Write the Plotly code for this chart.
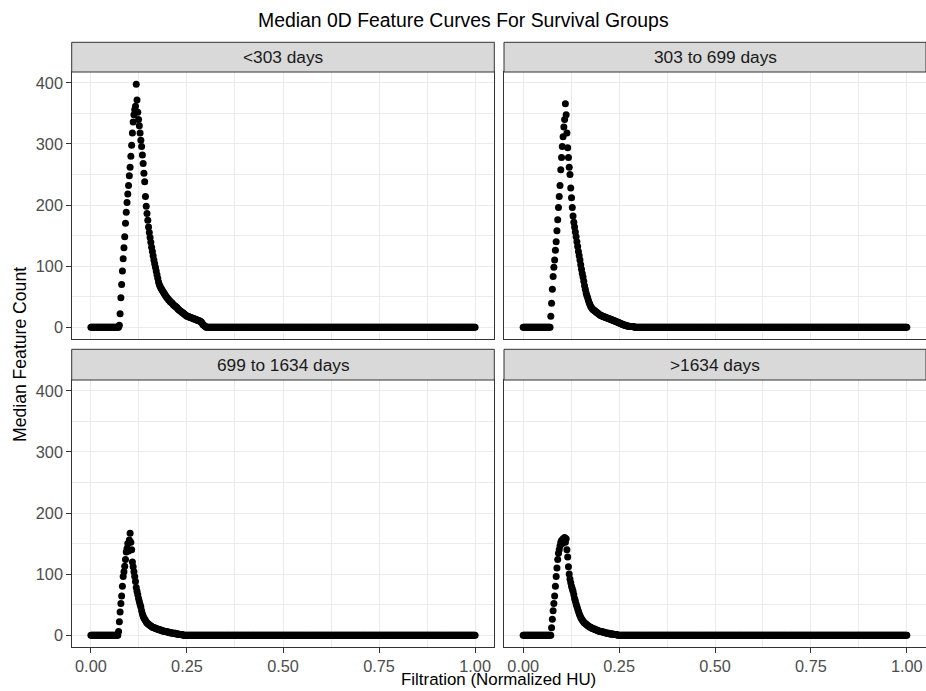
import plotly.graph_objects as go

# ---------------- data ----------------
GRID_STEPS = 500  # filtration grid: 0, 0.002, ..., 1.0
FILTRATION = [i / GRID_STEPS for i in range(GRID_STEPS + 1)]

GROUP_LABELS = ["<303 days", "303 to 699 days", "699 to 1634 days", ">1634 days"]

# index on the filtration grid where each non-zero stretch begins
ONSET_INDEX = [37, 36, 36, 37]

COUNTS_LT303 = [3, 22, 48, 70, 92, 112, 130, 148, 170, 188, 204, 218, 232, 248, 262, 280, 298, 318,
                336, 348, 356, 362, 398, 372, 352, 340, 330, 318, 306, 296, 282, 268, 252, 238, 214,
                198, 186, 175, 164, 155, 147, 139, 131, 124, 117, 110, 104, 98, 92, 86, 80, 74, 70,
                67, 64, 62, 60, 58, 56, 54, 52, 50, 48, 47, 45, 44, 42, 41, 40, 39, 37, 36, 35, 34,
                33, 32, 30, 29, 28, 27, 26, 25, 24, 23, 22, 21, 20, 19, 18, 18, 17, 17, 16, 16, 15,
                15, 14, 14, 13, 13, 12, 12, 11, 11, 10, 10, 9, 8, 6, 4, 3, 2, 1]

COUNTS_303_699 = [18, 39, 62, 83, 98, 110, 126, 140, 158, 176, 196, 214, 232, 258, 278, 296, 312,
                  328, 340, 366, 348, 318, 294, 278, 262, 250, 228, 212, 196, 182, 172, 164, 156,
                  148, 140, 132, 124, 117, 110, 102, 95, 88, 82, 75, 68, 62, 56, 52, 48, 44, 40,
                  37, 34, 32, 30, 29, 28, 27, 26, 25, 24, 23, 22, 21, 20, 19, 19, 18, 18, 17, 17,
                  16, 16, 15, 15, 14, 14, 13, 13, 12, 12, 11, 11, 10, 10, 9, 9, 8, 8, 7, 7, 6, 5,
                  5, 4, 4, 3, 3, 3, 2, 2, 2, 1, 1, 1, 1, 1, 1, 1]

COUNTS_699_1634 = [6, 22, 38, 52, 64, 80, 96, 104, 113, 124, 136, 142, 150, 138, 156, 167, 152, 140,
                   120, 112, 104, 96, 88, 78, 72, 66, 60, 55, 50, 46, 40, 35, 31, 28, 26, 24, 22,
                   20, 19, 18, 17, 16, 15, 14, 13, 13, 12, 12, 11, 11, 10, 10, 9, 9, 9, 8, 8, 7, 7,
                   7, 6, 6, 6, 5, 5, 5, 4, 4, 4, 4, 3, 3, 3, 3, 3, 2, 2, 2, 2, 1, 1, 1, 1, 1]

COUNTS_GT1634 = [12, 26, 40, 52, 64, 80, 96, 110, 124, 134, 140, 146, 152, 155, 150, 158, 156, 160,
                 152, 158, 140, 128, 112, 100, 92, 86, 80, 76, 72, 66, 60, 56, 51, 47, 43, 39, 35,
                 32, 29, 27, 25, 23, 21, 20, 19, 18, 17, 16, 15, 14, 13, 13, 12, 11, 11, 10, 10, 9,
                 9, 8, 8, 7, 7, 6, 6, 6, 5, 5, 5, 4, 4, 4, 3, 3, 3, 3, 2, 2, 2, 2, 2, 1, 1, 1, 1, 1]

GROUP_COUNTS = [COUNTS_LT303, COUNTS_303_699, COUNTS_699_1634, COUNTS_GT1634]

X_TICK_VALUES = [0, 0.25, 0.5, 0.75, 1.0]
X_TICK_LABELS = ["0.00", "0.25", "0.50", "0.75", "1.00"]
Y_TICK_VALUES = [0, 100, 200, 300, 400]
Y_TICK_LABELS = ["0", "100", "200", "300", "400"]

TITLE = "Median 0D Feature Curves For Survival Groups"
X_TITLE = "Filtration (Normalized HU)"
Y_TITLE = "Median Feature Count"


def full_series(onset, values):
    n = len(FILTRATION)
    ys = [0] * onset + list(values)
    ys = ys + [0] * (n - len(ys))
    return ys[:n]


# ---------------- layout geometry (pixels) ----------------
W, H = 926, 691
COLS = [(71.7, 494.3), (504.0, 926.0)]
ROWS = [(72.0, 339.3), (380.0, 647.3)]
STRIPS = [(42.3, 72.0), (349.3, 380.0)]

FONT = "Liberation Sans, Arial, Helvetica, sans-serif"
GRID = "#EBEBEB"
BORDER = "#333333"
TICKTXT = "#4D4D4D"
TICK_SIZE = 16.3
STRIP_SIZE = 17.3
AXTITLE_SIZE = 17.6
XTITLE_SIZE = 16.9
TITLE_SIZE = 19.4

ymax = max(max(c) for c in GROUP_COUNTS)
Y_RANGE = [-0.05 * ymax, 1.05 * ymax]
X_RANGE = [-0.05, 1.05]

fig = go.Figure()
layout = dict(
    width=W, height=H,
    margin=dict(l=0, r=0, t=0, b=0),
    paper_bgcolor="white", plot_bgcolor="white",
    showlegend=False,
    font=dict(family=FONT, color="black"),
    shapes=[], annotations=[],
)

for i, (label, counts) in enumerate(zip(GROUP_LABELS, GROUP_COUNTS)):
    r, c = divmod(i, 2)
    n = i + 1
    xa = "x" if n == 1 else f"x{n}"
    ya = "y" if n == 1 else f"y{n}"
    fig.add_trace(go.Scatter(
        x=FILTRATION, y=full_series(ONSET_INDEX[i], counts),
        mode="markers", xaxis=xa, yaxis=ya,
        marker=dict(color="black", size=7, line=dict(width=0)),
        hoverinfo="x+y",
    ))
    x0, x1 = COLS[c]
    y0, y1 = ROWS[r]
    bottom = r == 1
    left = c == 0
    layout["xaxis" if n == 1 else f"xaxis{n}"] = dict(
        domain=[x0 / W, x1 / W], anchor=ya, range=X_RANGE,
        tickvals=X_TICK_VALUES, ticktext=X_TICK_LABELS,
        showticklabels=bottom, ticks="outside" if bottom else "",
        ticklen=4.5, tickwidth=1, tickcolor=BORDER,
        tickfont=dict(size=TICK_SIZE, color=TICKTXT, family=FONT),
        showgrid=True, gridcolor=GRID, gridwidth=1.1,
        minor=dict(tick0=0.125, dtick=0.25, showgrid=True, gridcolor=GRID, gridwidth=0.6, ticks=""),
        showline=True, mirror=True, linecolor=BORDER, linewidth=1,
        zeroline=False, automargin=False, fixedrange=True,
    )
    layout["yaxis" if n == 1 else f"yaxis{n}"] = dict(
        domain=[1 - y1 / H, 1 - y0 / H], anchor=xa, range=Y_RANGE,
        tickvals=Y_TICK_VALUES, ticktext=Y_TICK_LABELS,
        showticklabels=left, ticks="outside" if left else "",
        ticklen=4.5, tickwidth=1, tickcolor=BORDER,
        tickfont=dict(size=TICK_SIZE, color=TICKTXT, family=FONT),
        showgrid=True, gridcolor=GRID, gridwidth=1.1,
        minor=dict(tick0=50, dtick=100, showgrid=True, gridcolor=GRID, gridwidth=0.6, ticks=""),
        showline=True, mirror=True, linecolor=BORDER, linewidth=1,
        zeroline=False, automargin=False, fixedrange=True,
    )
    s0, s1 = STRIPS[r]
    layout["shapes"].append(dict(
        type="rect", xref="paper", yref="paper",
        x0=x0 / W, x1=x1 / W, y0=1 - s1 / H, y1=1 - s0 / H,
        fillcolor="#D9D9D9", line=dict(color=BORDER, width=1), layer="above",
    ))
    layout["annotations"].append(dict(
        text=label, xref="paper", yref="paper",
        x=(x0 + x1) / 2 / W, y=1 - (s0 + s1) / 2 / H,
        xanchor="center", yanchor="middle", showarrow=False,
        font=dict(size=STRIP_SIZE, color="#1A1A1A", family=FONT),
    ))

layout["annotations"] += [
    dict(text=TITLE, xref="paper", yref="paper", x=0.5, y=1 - 20 / H,
         xanchor="center", yanchor="middle", showarrow=False,
         font=dict(size=TITLE_SIZE, color="black", family=FONT)),
    dict(text=X_TITLE, xref="paper", yref="paper", x=(71.7 + 926) / 2 / W, y=0,
         xanchor="center", yanchor="bottom", showarrow=False,
         font=dict(size=XTITLE_SIZE, color="black", family=FONT)),
    dict(text=Y_TITLE, xref="paper", yref="paper", x=20 / W, y=1 - 355 / H,
         xanchor="center", yanchor="middle", showarrow=False, textangle=-90,
         font=dict(size=AXTITLE_SIZE, color="black", family=FONT)),
]

fig.update_layout(**layout)
fig.write_html(
    "out.html",
    config={"displayModeBar": False},
    post_script="document.body.style.margin='0';document.body.style.padding='0';",
)
